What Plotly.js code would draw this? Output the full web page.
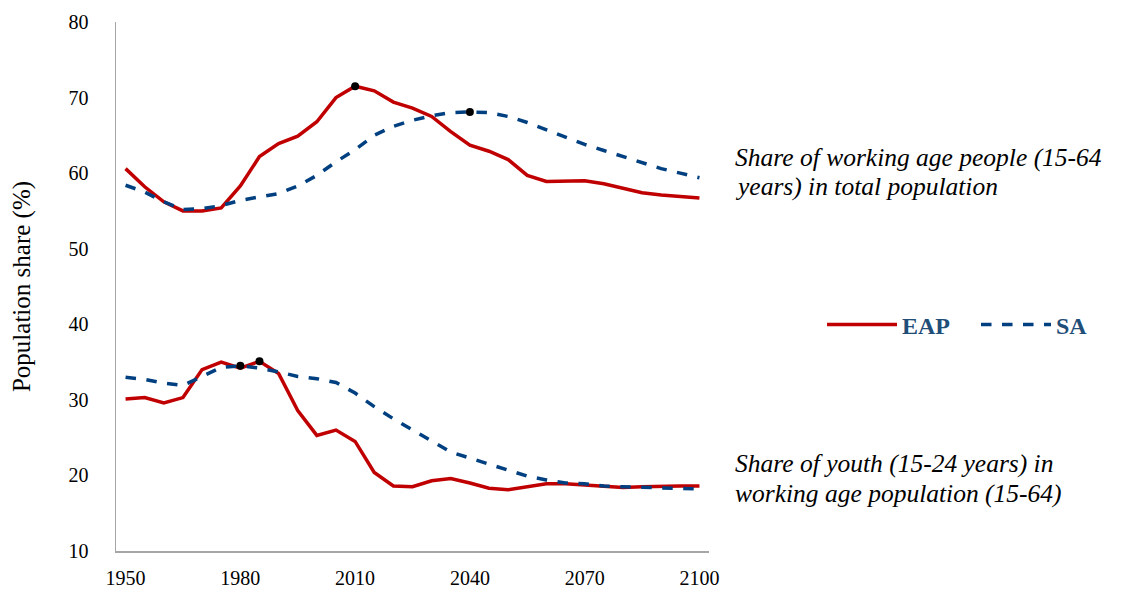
<!DOCTYPE html>
<html>
<head>
<meta charset="utf-8">
<script src="https://cdn.plot.ly/plotly-3.0.1.min.js"></script>
<style>
  html, body { margin: 0; padding: 0; background: #ffffff; font-family: 'Liberation Serif'; }
  #chart { width: 1125px; height: 593px; }
</style>
</head>
<body>
<div id="chart"></div>
<script>
// Years (5-year steps)
const years = [1950,1955,1960,1965,1970,1975,1980,1985,1990,1995,2000,2005,2010,2015,2020,2025,
               2030,2035,2040,2045,2050,2055,2060,2065,2070,2075,2080,2085,2090,2095,2100];

// Share of working age people (15-64) in total population
const eapWorking = [60.6,58.2,56.2,55.0,55.0,55.4,58.3,62.2,63.9,64.9,66.8,70.0,71.5,70.9,69.4,68.6,
                    67.5,65.5,63.7,62.9,61.8,59.7,58.9,58.9,59.0,58.6,58.0,57.4,57.1,56.9,56.7];
const saWorking  = [58.4,57.5,56.2,55.2,55.3,55.7,56.4,56.9,57.3,58.3,59.7,61.5,63.1,65.0,66.2,67.0,
                    67.6,68.0,68.1,68.0,67.5,66.7,65.7,64.7,63.8,63.0,62.2,61.4,60.6,60.0,59.4];

// Share of youth (15-24) in working age population (15-64)
const eapYouth = [30.1,30.3,29.6,30.3,34.0,35.0,34.2,35.1,33.5,28.6,25.3,26.0,24.5,20.4,18.6,18.5,
                  19.3,19.6,19.0,18.3,18.1,18.5,18.9,18.9,18.7,18.5,18.4,18.5,18.6,18.6,18.6];
const saYouth  = [33.0,32.7,32.2,31.9,33.1,34.3,34.5,34.2,33.7,33.1,32.8,32.3,30.9,29.1,27.5,26.0,
                  24.5,23.1,22.3,21.5,20.7,19.9,19.4,19.0,18.9,18.6,18.5,18.4,18.3,18.2,18.2];

// Highlighted peaks: [series, year]
const peakPoints = [[eapWorking, 2010], [saWorking, 2040], [saYouth, 1980], [eapYouth, 1985]];

const xTicks = [1950, 1980, 2010, 2040, 2070, 2100];
const yTicks = [10, 20, 30, 40, 50, 60, 70, 80];

// Side labels, one entry per text line
const upperLabel = ['Share of working age people (15-64', 'years) in total population'];
const lowerLabel = ['Share of youth (15-24 years) in', 'working age population (15-64)'];

const RED = '#C00000';
const BLUE = '#004080';
const FONT = "'Liberation Serif'";

const traces = [
  {x: years, y: eapWorking, type: 'scatter', mode: 'lines', name: 'EAP', legendgroup: 'EAP',
   line: {color: RED, width: 3.5}},
  {x: years, y: saWorking, type: 'scatter', mode: 'lines', name: 'SA', legendgroup: 'SA',
   line: {color: BLUE, width: 3.5, dash: 'dash'}},
  {x: years, y: eapYouth, type: 'scatter', mode: 'lines', name: 'EAP', legendgroup: 'EAP', showlegend: false,
   line: {color: RED, width: 3.5}},
  {x: years, y: saYouth, type: 'scatter', mode: 'lines', name: 'SA', legendgroup: 'SA', showlegend: false,
   line: {color: BLUE, width: 3.5, dash: 'dash'}},
  {x: peakPoints.map(p => p[1]), y: peakPoints.map(p => p[0][years.indexOf(p[1])]),
   type: 'scatter', mode: 'markers', showlegend: false, hoverinfo: 'skip',
   marker: {color: '#000000', size: 8}}
];

function sideLine(text, y) {
  return {xref: 'paper', yref: 'paper', x: 1.0405, y: y, xanchor: 'left', yanchor: 'middle', align: 'left',
          showarrow: false, font: {family: FONT, size: 25.5, color: '#000000', style: 'italic'}, text: text};
}

const layout = {
  width: 1125, height: 593,
  paper_bgcolor: '#ffffff', plot_bgcolor: '#ffffff',
  margin: {l: 116, r: 416, t: 22, b: 42, autoexpand: false},
  font: {family: FONT, size: 20, color: '#000000'},
  showlegend: true,
  legend: {
    orientation: 'h', x: 1.1906, y: 0.4272, xanchor: 'left', yanchor: 'middle',
    font: {family: FONT, size: 24, color: '#1F4E79', weight: 'bold'},
    itemwidth: 70, entrywidth: 69, tracegroupgap: 0, bgcolor: 'rgba(0,0,0,0)'
  },
  xaxis: {
    range: [1947.5, 2102.5], tickvals: xTicks, ticktext: xTicks.map(String),
    showgrid: false, zeroline: false, showline: true, linecolor: '#A6A6A6', linewidth: 1.5,
    ticks: 'outside', ticklen: 8, tickcolor: 'rgba(0,0,0,0)',
    tickfont: {family: FONT, size: 20, color: '#000000'}
  },
  yaxis: {
    range: [10, 80], tickvals: yTicks,
    showgrid: false, zeroline: false, showline: true, linecolor: '#A6A6A6', linewidth: 1.5,
    ticks: 'outside', ticklen: 22, tickcolor: 'rgba(0,0,0,0)',
    tickfont: {family: FONT, size: 20, color: '#000000'},
    title: {text: 'Population share (%)', font: {family: FONT, size: 25, color: '#000000'}, standoff: 31}
  },
  annotations: [
    sideLine(upperLabel[0], 0.7448),
    sideLine(upperLabel[1], 0.6881),
    sideLine(lowerLabel[0], 0.1645),
    sideLine(lowerLabel[1], 0.1078)
  ]
};

const config = {displayModeBar: false, staticPlot: true};
function draw() {
  Plotly.newPlot('chart', traces, layout, config);
}
// Initial draw, then redraw once the serif face is resolved so text picks it up.
draw();
requestAnimationFrame(draw);
setTimeout(draw, 60);
setTimeout(draw, 250);
if (document.fonts && document.fonts.load) {
  Promise.all([
    document.fonts.load("20px 'Liberation Serif'"),
    document.fonts.load("bold 20px 'Liberation Serif'"),
    document.fonts.load("italic 20px 'Liberation Serif'")
  ]).then(() => document.fonts.ready).then(draw, draw);
}
</script>
</body>
</html>
